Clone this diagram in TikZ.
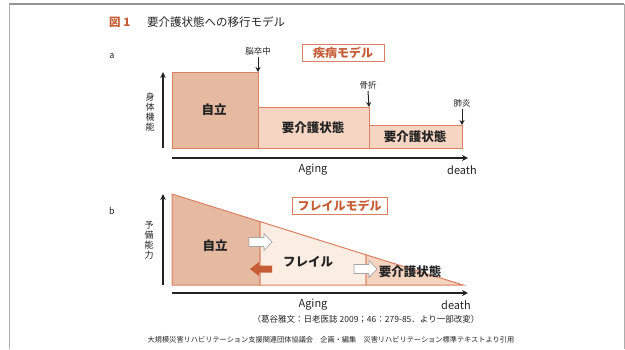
\documentclass[tikz,border=0pt]{standalone}
\usepackage{fontspec}
\setmainfont{Noto Sans CJK JP}
\usetikzlibrary{arrows.meta}

\definecolor{jiritsu}{RGB}{230,186,160}
\definecolor{kaigo}{RGB}{246,214,195}
\definecolor{frail}{RGB}{252,237,226}
\definecolor{edge}{RGB}{218,128,98}
\definecolor{brick}{RGB}{198,92,54}
\definecolor{ink}{RGB}{35,35,35}

\tikzset{
  region/.style={draw=edge,line width=1pt},
  model/.style={draw=edge,line width=1pt,text=brick,font=\fontsize{12}{12}\selectfont\bfseries,inner sep=0pt,minimum height=17pt},
  state/.style={text=ink,font=\fontsize{12.5}{12.5}\selectfont\bfseries},
  event/.style={text=ink,font=\fontsize{8.5}{8.5}\selectfont,inner sep=0pt},
  axis/.style={line width=1.6pt,ink,-{Stealth[length=6pt,width=6pt]}},
  yaxis/.style={line width=1.2pt,ink,-{Stealth[length=6pt,width=5.5pt]}},
  drop/.style={line width=1pt,ink,-{Stealth[length=5pt,width=5pt]}},
  vlabel/.style={text=ink,font=\fontsize{9}{10}\selectfont,align=center,inner sep=0pt},
  axlabel/.style={text=ink,font=\fontsize{11}{11}\selectfont,inner sep=0pt},
  wharrow/.style={fill=white,draw=gray!70,line width=0.7pt},
}

\begin{document}
\begin{tikzpicture}[x=1pt,y=-1pt]
\useasboundingbox (0,0) rectangle (625,349);

% frame
\draw[gray!85,line width=2.5pt] (9,4) -- (624,4);
\draw[gray!65,line width=0.8pt] (9,4) -- (9,349);
\draw[gray!65,line width=0.8pt] (624,4) -- (624,349);

% title
\node[anchor=west,inner sep=0pt,text=brick,font=\fontsize{11.5}{11.5}\selectfont\bfseries] (fig) at (109,22) {図 1};
\node[anchor=west,inner sep=0pt,text=ink,font=\fontsize{11.5}{11.5}\selectfont] (title) at (147,22) {要介護状態への移行モデル};

% a : disease model
\node[text=ink,font=\fontsize{9}{9}\selectfont] (pa) at (112,56) {a};
\node[model,minimum width=82pt] (sick) at (343,52.5) {疾病モデル};

\draw[region,fill=jiritsu] (172,72) rectangle (258,148);
\draw[region,fill=kaigo] (258,107) rectangle (369,148);
\draw[region,fill=kaigo] (369,125) rectangle (462,148);
\node[state] (jiritsuA) at (214,110) {自立};
\node[state] (kaigoA) at (313,128) {要介護状態};
\node[state] (kaigoB) at (415,137) {要介護状態};

\node[event] (stroke) at (258,51) {脳卒中};
\node[event] (fract) at (368,85) {骨折};
\node[event] (pneu) at (462,103) {肺炎};
\coordinate (strokeAt) at (258,72);
\coordinate (fractAt) at (369,107);
\coordinate (pneuAt) at (462,125);
\draw[drop] (stroke.south) ++(0,2) -- (strokeAt);
\draw[drop] (fract.south) ++(0,2) -- (fractAt);
\draw[drop] (pneu.south) ++(0,2) -- (pneuAt);

\coordinate (ya0) at (163,148);
\coordinate (ya1) at (163,72);
\draw[yaxis] (ya0) -- (ya1);
\node[vlabel] (body) at (150,112) {身\\体\\機\\能};

\coordinate (xa0) at (172,158);
\coordinate (xa1) at (468,158);
\draw[axis] (xa0) -- (xa1);
\node[axlabel] (agingA) at (313,170) {Aging};
\node[axlabel] (deathA) at (462,170) {death};

% b : frailty model
\node[text=ink,font=\fontsize{9}{9}\selectfont] (pb) at (112,211) {b};
\node[model,minimum width=95pt] (frailmodel) at (339.5,205.5) {フレイルモデル};

\draw[region,fill=jiritsu] (172,194) -- (260,221.6) -- (260,285) -- (172,285) -- cycle;
\draw[region,fill=frail] (260,221.6) -- (366,254.8) -- (366,285) -- (260,285) -- cycle;
\draw[region,fill=kaigo!90!jiritsu] (366,254.8) -- (463,285) -- (366,285) -- cycle;

\coordinate (goA) at (249,242);
\coordinate (goB) at (354,269);
\coordinate (back) at (272,269);
\draw[wharrow] (goA) ++(0,-4.5) -- ++(15,0) -- ++(0,-4) -- ++(8,8.5) -- ++(-8,8.5) -- ++(0,-4) -- ++(-15,0) -- cycle;
\draw[wharrow] (goB) ++(0,-4.5) -- ++(15,0) -- ++(0,-4) -- ++(8,8.5) -- ++(-8,8.5) -- ++(0,-4) -- ++(-15,0) -- cycle;
\fill[brick] (back) ++(0,-3.5) -- ++(-13,0) -- ++(0,-3.5) -- ++(-9,7) -- ++(9,7) -- ++(0,-3.5) -- ++(13,0) -- cycle;

\node[state] (jiritsuB) at (215,246) {自立};
\node[state] (frailB) at (308,262) {フレイル};
\node[state] (kaigoC) at (410,272) {要介護状態};

\coordinate (yb0) at (163,285);
\coordinate (yb1) at (163,194);
\draw[yaxis] (yb0) -- (yb1);
\node[vlabel] (reserve) at (149,240) {予\\備\\能\\力};

\coordinate (xb0) at (172,293);
\coordinate (xb1) at (468,293);
\draw[axis] (xb0) -- (xb1);
\node[axlabel] (agingB) at (313,305) {Aging};
\node[axlabel] (deathB) at (456,305) {death};

% source
\node[text=ink,font=\fontsize{8.5}{8.5}\selectfont,inner sep=0pt] (cite) at (366,319) {（葛谷雅文：日老医誌 2009；46：279-85．より一部改変）};
\node[text=ink,font=\fontsize{7.2}{7.2}\selectfont,inner sep=0pt] (credit) at (331,340) {大規模災害リハビリテーション支援関連団体協議会　企画・編集　災害リハビリテーション標準テキストより引用};
\end{tikzpicture}
\end{document}
